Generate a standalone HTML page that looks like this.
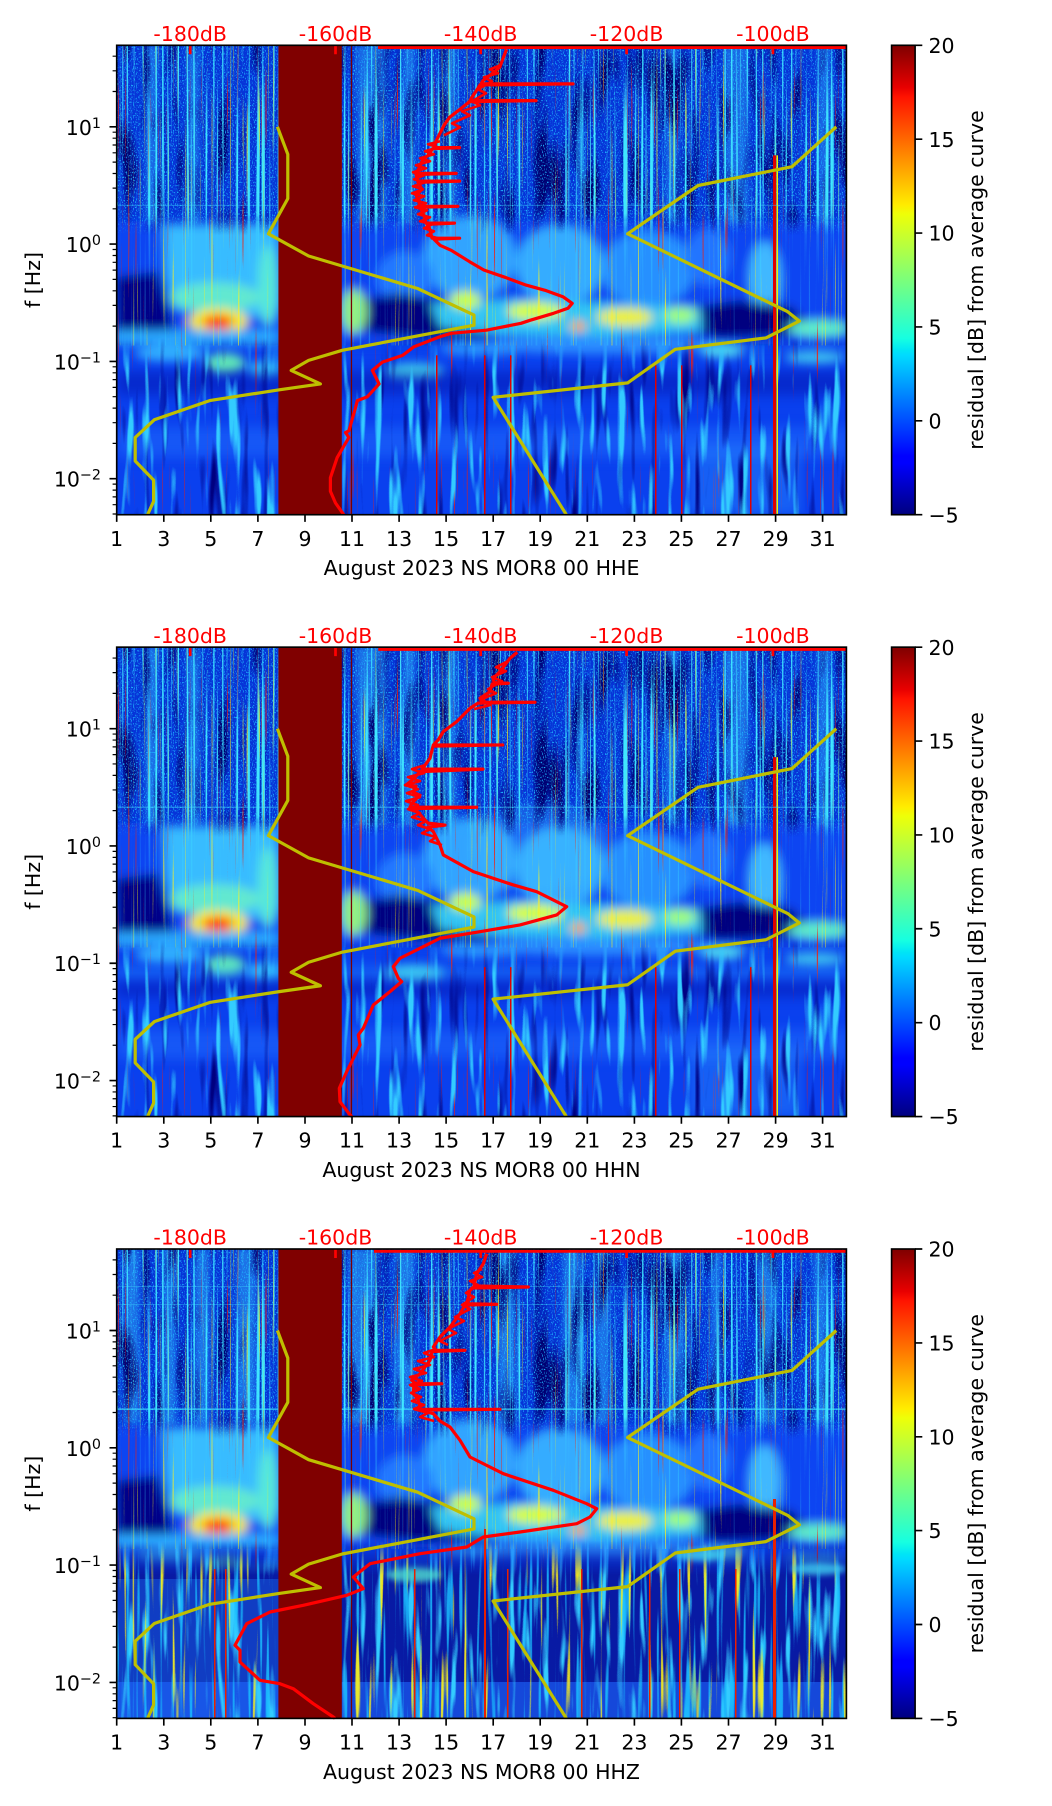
<!DOCTYPE html>
<html><head><meta charset="utf-8"><style>
html,body{margin:0;padding:0;background:#fff;}
svg{display:block;}
text{font-family:"DejaVu Sans","Liberation Sans",sans-serif;font-size:20.5px;}
</style></head><body>
<svg width="1052" height="1806" viewBox="0 0 1052 1806" xmlns="http://www.w3.org/2000/svg">
<defs>
 <linearGradient id="jet" x1="0" y1="1" x2="0" y2="0">
  <stop offset="0" stop-color="#00007f"/><stop offset="0.11" stop-color="#0000ff"/>
  <stop offset="0.125" stop-color="#0000ff"/><stop offset="0.34" stop-color="#00dbff"/>
  <stop offset="0.35" stop-color="#00e5f6"/><stop offset="0.375" stop-color="#16ffe1"/>
  <stop offset="0.5" stop-color="#7bff7b"/><stop offset="0.64" stop-color="#eeff08"/>
  <stop offset="0.66" stop-color="#ffec00"/><stop offset="0.89" stop-color="#ff1300"/>
  <stop offset="0.91" stop-color="#e80000"/><stop offset="1" stop-color="#7f0000"/>
 </linearGradient>
 <linearGradient id="fadeG" gradientUnits="userSpaceOnUse" x1="0" y1="292" x2="0" y2="326">
  <stop offset="0" stop-color="#fff" stop-opacity="0"/><stop offset="1" stop-color="#fff" stop-opacity="1"/>
 </linearGradient>
 <mask id="lowMask" maskUnits="userSpaceOnUse" x="100" y="280" width="760" height="200">
  <rect x="100" y="280" width="760" height="200" fill="url(#fadeG)"/>
 </mask>
 <linearGradient id="upG" gradientUnits="userSpaceOnUse" x1="0" y1="168" x2="0" y2="190">
  <stop offset="0" stop-color="#fff" stop-opacity="1"/><stop offset="1" stop-color="#fff" stop-opacity="0"/>
 </linearGradient>
 <mask id="upMask" maskUnits="userSpaceOnUse" x="100" y="-5" width="760" height="200">
  <rect x="100" y="-5" width="760" height="200" fill="url(#upG)"/>
 </mask>
 <clipPath id="clip"><rect x="116.7" y="0" width="729.7" height="469.4"/></clipPath>
 <filter id="blur5" x="-10%" y="-10%" width="120%" height="120%"><feGaussianBlur stdDeviation="5"/></filter>
 <filter id="blur3" x="-10%" y="-10%" width="120%" height="120%"><feGaussianBlur stdDeviation="3"/></filter>
 <filter id="blurBand" x="-5%" y="-100%" width="110%" height="300%"><feGaussianBlur stdDeviation="6"/></filter>
 <filter id="fSpeck" x="0" y="0" width="1" height="1" color-interpolation-filters="sRGB">
  <feTurbulence type="fractalNoise" baseFrequency="0.9 0.6" numOctaves="1" seed="3"/>
  <feColorMatrix type="matrix" values="0 0 0 0 0.12  0 0 0 0 0.72  0 0 0 0 1  5 0 0 0 -2.7"/>
 </filter>
 <filter id="fNavy" x="0" y="0" width="1" height="1" color-interpolation-filters="sRGB">
  <feTurbulence type="fractalNoise" baseFrequency="0.06 0.012" numOctaves="2" seed="8"/>
  <feColorMatrix type="matrix" values="0 0 0 0 0  0 0 0 0 0  0 0 0 0 0.45  4 0 0 0 -2.0"/>
 </filter>
 <filter id="fStC" x="0" y="0" width="1" height="1" color-interpolation-filters="sRGB">
  <feTurbulence type="fractalNoise" baseFrequency="0.45 0.004" numOctaves="1" seed="11"/>
  <feColorMatrix type="matrix" values="0 0 0 0 0.25  0 0 0 0 0.9  0 0 0 0 1  7 0 0 0 -3.9"/>
 </filter>
 <filter id="fStY" x="0" y="0" width="1" height="1" color-interpolation-filters="sRGB">
  <feTurbulence type="fractalNoise" baseFrequency="0.6 0.006" numOctaves="1" seed="29"/>
  <feColorMatrix type="matrix" values="0 0 0 0 1  0 0 0 0 0.95  0 0 0 0 0.1  12 0 0 0 -8.0"/>
 </filter>
 <filter id="fStR" x="0" y="0" width="1" height="1" color-interpolation-filters="sRGB">
  <feTurbulence type="fractalNoise" baseFrequency="0.7 0.008" numOctaves="1" seed="41"/>
  <feColorMatrix type="matrix" values="0 0 0 0 1  0 0 0 0 0.1  0 0 0 0 0  14 0 0 0 -9.8"/>
 </filter>
 <filter id="fLowC" x="0" y="0" width="1" height="1" color-interpolation-filters="sRGB">
  <feTurbulence type="fractalNoise" baseFrequency="0.12 0.012" numOctaves="2" seed="17"/>
  <feColorMatrix type="matrix" values="0 0 0 0 0.2  0 0 0 0 0.8  0 0 0 0 1  6 0 0 0 -3.4"/>
 </filter>
 <filter id="fLowN" x="0" y="0" width="1" height="1" color-interpolation-filters="sRGB">
  <feTurbulence type="fractalNoise" baseFrequency="0.1 0.01" numOctaves="2" seed="19"/>
  <feColorMatrix type="matrix" values="0 0 0 0 0  0 0 0 0 0  0 0 0 0 0.5  4 0 0 0 -2.3"/>
 </filter>
 <filter id="fLowY" x="0" y="0" width="1" height="1" color-interpolation-filters="sRGB">
  <feTurbulence type="fractalNoise" baseFrequency="0.25 0.008" numOctaves="1" seed="53"/>
  <feColorMatrix type="matrix" values="0 0 0 0 1  0 0 0 0 0.95  0 0 0 0 0.1  10 0 0 0 -6.4"/>
 </filter>
 <filter id="fLowC2" x="0" y="0" width="1" height="1" color-interpolation-filters="sRGB">
  <feTurbulence type="fractalNoise" baseFrequency="0.3 0.01" numOctaves="1" seed="61"/>
  <feColorMatrix type="matrix" values="0 0 0 0 0.1  0 0 0 0 0.75  0 0 0 0 1  7 0 0 0 -3.9"/>
 </filter>

 <g id="mid" filter="url(#blur5)">
  <rect x="110" y="176" width="745" height="124" fill="#0a44f2"/>
  <polygon points="164,180 277,180 279,262 255,272 200,268 172,262 166,230" fill="#38bcff"/>
  <ellipse cx="215" cy="252" rx="45" ry="15" fill="#62e8d0"/>
  <ellipse cx="268" cy="240" rx="10" ry="40" fill="#58e8d8"/>
  <ellipse cx="470" cy="212" rx="46" ry="42" fill="#30a4ff"/>
  <ellipse cx="560" cy="220" rx="44" ry="40" fill="#34acff"/>
  <ellipse cx="648" cy="224" rx="46" ry="38" fill="#2890ff"/>
  <ellipse cx="405" cy="232" rx="28" ry="26" fill="#2478ff"/>
  <ellipse cx="765" cy="232" rx="16" ry="36" fill="#40b8ff"/>
  <ellipse cx="708" cy="212" rx="22" ry="28" fill="#2274ff"/>
  <polygon points="116,232 158,226 168,262 174,292 116,292" fill="#000088"/>
  <polygon points="352,256 400,248 450,256 500,268 525,282 480,293 420,293 370,287 352,276" fill="#000080"/>
  <polygon points="688,262 740,255 792,262 806,276 790,291 720,293 678,283" fill="#000080"/>
  <polygon points="430,258 520,254 700,262 702,286 600,291 500,289 440,282" fill="#30c4f4"/>
  <ellipse cx="465" cy="255" rx="16" ry="9" fill="#c8ff48"/>
  <ellipse cx="535" cy="266" rx="28" ry="9" fill="#d8ff38"/>
  <ellipse cx="625" cy="272" rx="28" ry="9" fill="#eef030"/>
  <ellipse cx="680" cy="270" rx="16" ry="8" fill="#a0ff78"/>
  <ellipse cx="578" cy="281" rx="8" ry="5" fill="#ffa000"/>
  <ellipse cx="218" cy="276" rx="30" ry="13" fill="#f4e820"/>
  <ellipse cx="218" cy="277" rx="15" ry="7" fill="#ff2800"/>
  <rect x="116" y="285" width="162" height="14" fill="#2aa8ff"/>
  <ellipse cx="354" cy="266" rx="13" ry="22" fill="#90f088"/>
  <ellipse cx="818" cy="283" rx="30" ry="8" fill="#60f0c8"/>
  <ellipse cx="600" cy="300" rx="110" ry="9" fill="#2a8cff"/>
  <ellipse cx="480" cy="304" rx="40" ry="6" fill="#2a9aff"/>
  <ellipse cx="722" cy="306" rx="22" ry="6" fill="#50e0f0"/>
  <ellipse cx="170" cy="308" rx="35" ry="8" fill="#30b0ff"/>
  <ellipse cx="225" cy="318" rx="20" ry="10" fill="#60e8b8"/>
  <ellipse cx="265" cy="324" rx="18" ry="8" fill="#30c0ff"/>
  <ellipse cx="414" cy="326" rx="30" ry="8" fill="#40d0f0"/>
  <ellipse cx="815" cy="312" rx="30" ry="6" fill="#40c8f0"/>
 </g>
 <g id="cols" filter="url(#blur3)" fill="#40d0ff">
  <rect x="146" y="0" width="12" height="178"/><rect x="187" y="0" width="12" height="178"/>
  <rect x="357" y="0" width="29" height="178"/><rect x="403" y="0" width="12" height="178"/>
  <rect x="444" y="0" width="12" height="178"/><rect x="666" y="0" width="12" height="178"/>
  <rect x="725" y="0" width="23" height="178"/><rect x="818" y="0" width="12" height="178"/>
 </g>
 <g id="upper">
  <g mask="url(#upMask)">
   <rect x="116.7" y="0" width="729.7" height="192" filter="url(#fNavy)"/>
   <rect x="116.7" y="0" width="729.7" height="192" filter="url(#fSpeck)"/>
   <rect x="116.7" y="0" width="729.7" height="192" filter="url(#fStC)"/>
  </g>
  <rect x="116.7" y="176" width="729.7" height="124" filter="url(#fStC)" opacity="0.3"/>
  <rect x="116.7" y="0" width="729.7" height="300" filter="url(#fStY)" opacity="0.8"/>
  <rect x="116.7" y="0" width="729.7" height="470" filter="url(#fStR)" opacity="0.8"/>
 </g>
 <g id="yel" fill="none" stroke="#bfbf00" stroke-width="3.2" stroke-linejoin="round">
  <polyline points="147.6,469.4 153.6,456 153.6,434.8 135.2,415.7 135.2,392.2 154.3,374.5 209.7,355.3 278.4,344.6 320.4,338.6 291.2,325.1 308.6,315.1 342.2,305 474,279.9 474,269.8 417.6,243.2 308.6,210.7 268.4,188.5 287.8,153.3 287.8,109 277.4,81.5"/>
  <polyline points="566.3,469.4 493.1,352 627.6,337.6 675.3,304 765.9,292.6 799.4,275.8 787.7,266.4 627.6,188.5 698.1,140.2 792,121.4 836.3,81.5"/>
 </g>
</defs>

<rect x="0" y="0" width="1052" height="1806" fill="#ffffff"/>

<!-- ================= PANEL 1 ================= -->
<g transform="translate(0,45.3)">
 <g clip-path="url(#clip)">
  <rect x="116.7" y="0" width="729.7" height="470" fill="#0634d8"/>
  <rect x="116.7" y="300" width="729.7" height="170" fill="#0a40ee"/>
  <use href="#mid"/>
  <use href="#cols" opacity="0.35"/>
  <use href="#upper"/>
  <g mask="url(#lowMask)">
   <rect x="116.7" y="326" width="729.7" height="24" fill="#000090" opacity="0.35" filter="url(#blurBand)"/>
   <rect x="116.7" y="382" width="729.7" height="30" fill="#2070ff" opacity="0.5" filter="url(#blurBand)"/>
   <rect x="690" y="400" width="110" height="70" fill="#2a90ff" opacity="0.4" filter="url(#blurBand)"/>
   <rect x="116.7" y="290" width="729.7" height="180" filter="url(#fLowN)"/>
   <rect x="116.7" y="290" width="729.7" height="180" filter="url(#fLowC)"/>
  </g>
  <g fill="#e00000">
   <rect x="436" y="310" width="1.5" height="160"/><rect x="484" y="310" width="1.5" height="160"/>
   <rect x="510" y="310" width="1.5" height="160"/><rect x="655" y="320" width="1.5" height="150"/>
   <rect x="681" y="320" width="1.5" height="150"/><rect x="750" y="320" width="1.5" height="150"/>
   <rect x="773" y="110" width="3" height="360"/>
  </g>
  <rect x="776.5" y="110" width="1.5" height="360" fill="#f0f000"/>
  <rect x="116.7" y="159.5" width="729.7" height="1.2" fill="#40e0ff" opacity="0.35"/>
 </g>
 <rect x="278.4" y="0" width="63.4" height="469.4" fill="#800000"/>
 <rect x="350.8" y="0" width="1.3" height="469.4" fill="#7a0000"/>
 <use href="#yel"/>
 <g fill="none" stroke="#ff0000" stroke-width="3.2" stroke-linejoin="round">
  <polyline points="506.5,4 499.8,21.8 490,30 483,35.2 481,38.6 573,38.6 480,39.6 476,46 472,52 470,55.3 536,55.3 469.6,56.3 460,64 449.5,72.1 444,80 439.5,88.9 436,96 434,102.3 459.6,102.3 432.7,103.3 428,110 422,116 419.3,122.4 416,128.1 456.2,128.1 416,129.2 418,135.8 459.6,135.8 418,137 422,144 416,150 419.3,156 419.3,161 457.9,161 420,162 424,170 426,177.8 454.5,177.8 427,179 429.4,182.8 432,192.9 459.6,192.9 434,194 440,200 451.2,205 469.6,216.4 483.8,224.7 505,232 526,239.8 545,245 562.9,251.4 572.2,258 568,263 553.6,268 530,275 521,278 486.4,284.9 451.2,288 439.5,291.6 414,301.4 402.6,310.1 382.4,316.8 372.4,325.1 379.1,338.6 367.4,351.4 357.3,355.3 355.6,362 348.9,385.5 345.5,387.2 348.9,392.2 337.1,412.4 330.4,432.5 330.4,445.9 335.5,457.7 343.8,469.4"/>
  <polyline stroke-width="2.6" points="440,96 428,99 438,102 425,106 434,109 420,113 430,116 416,120 426,123 413,127 424,130 414,134 425,137 413,141 423,144 412,148 424,151 414,155 426,158 415,162 427,165 418,169 430,172 420,176 432,179 424,183 434,186 427,190 438,193"/>
  <polyline stroke-width="2.6" points="500,20 490,24 498,28 484,32 492,36 478,44 486,48 472,56 480,60 462,66 470,70 452,78 460,82 444,90"/>
  <line x1="378" y1="2.2" x2="846" y2="2.2" stroke-width="3"/>
 </g>
 <path d="M190.2,0V9M335.5,0V9M480.7,0V9M626.6,0V9M772.9,0V9" stroke="#ff0000" stroke-width="2.7"/>
 <rect x="116.7" y="0" width="729.7" height="469.4" fill="none" stroke="#000" stroke-width="1.64"/>
 <path d="M109.5,81.5H116.7M109.5,198.8H116.7M109.5,316.1H116.7M109.5,433.4H116.7" stroke="#000" stroke-width="1.64"/>
 <path d="M112.6,46.2H116.7M112.6,25.5H116.7M112.6,10.9H116.7M112.6,163.5H116.7M112.6,142.8H116.7M112.6,128.2H116.7M112.6,116.8H116.7M112.6,107.5H116.7M112.6,99.7H116.7M112.6,92.9H116.7M112.6,86.9H116.7M112.6,280.8H116.7M112.6,260.1H116.7M112.6,245.5H116.7M112.6,234.1H116.7M112.6,224.8H116.7M112.6,217H116.7M112.6,210.2H116.7M112.6,204.2H116.7M112.6,398.1H116.7M112.6,377.4H116.7M112.6,362.8H116.7M112.6,351.4H116.7M112.6,342.1H116.7M112.6,334.3H116.7M112.6,327.5H116.7M112.6,321.5H116.7M112.6,468.7H116.7M112.6,459.4H116.7M112.6,451.6H116.7M112.6,444.8H116.7M112.6,438.8H116.7" stroke="#000" stroke-width="1.2"/>
 <path d="M116.7,469.4v7.2M163.8,469.4v7.2M210.8,469.4v7.2M257.9,469.4v7.2M305,469.4v7.2M352,469.4v7.2M399.1,469.4v7.2M446.1,469.4v7.2M493.2,469.4v7.2M540.2,469.4v7.2M587.3,469.4v7.2M634.4,469.4v7.2M681.4,469.4v7.2M728.5,469.4v7.2M775.6,469.4v7.2M822.6,469.4v7.2" stroke="#000" stroke-width="1.64"/>
 <g fill="#ff0000" text-anchor="middle">
  <text x="190.2" y="-4.3">-180dB</text><text x="335.5" y="-4.3">-160dB</text><text x="480.7" y="-4.3">-140dB</text><text x="626.6" y="-4.3">-120dB</text><text x="772.9" y="-4.3">-100dB</text>
 </g>
 <g text-anchor="end" fill="#000">
  <text x="101" y="89.5">10<tspan font-size="14.3" dy="-7">1</tspan></text>
  <text x="101" y="206.8">10<tspan font-size="14.3" dy="-7">0</tspan></text>
  <text x="101" y="324.1">10<tspan font-size="14.3" dy="-7">−1</tspan></text>
  <text x="101" y="441.4">10<tspan font-size="14.3" dy="-7">−2</tspan></text>
 </g>
 <g text-anchor="middle" fill="#000">
  <text x="116.7" y="500.6">1</text><text x="163.8" y="500.6">3</text><text x="210.8" y="500.6">5</text><text x="257.9" y="500.6">7</text><text x="305" y="500.6">9</text><text x="352" y="500.6">11</text><text x="399.1" y="500.6">13</text><text x="446.1" y="500.6">15</text><text x="493.2" y="500.6">17</text><text x="540.2" y="500.6">19</text><text x="587.3" y="500.6">21</text><text x="634.4" y="500.6">23</text><text x="681.4" y="500.6">25</text><text x="728.5" y="500.6">27</text><text x="775.6" y="500.6">29</text><text x="822.6" y="500.6">31</text>
  <text x="481.5" y="529.8">August 2023 NS MOR8 00 HHE</text>
  <text transform="translate(40.2,234.7) rotate(-90)">f [Hz]</text>
  <text transform="translate(983,234.7) rotate(-90)">residual [dB] from average curve</text>
 </g>
 <rect x="891.6" y="0" width="23.5" height="469.4" fill="url(#jet)" stroke="#000" stroke-width="1.64"/>
 <path d="M915.1,0H922.3M915.1,93.9H922.3M915.1,187.8H922.3M915.1,281.6H922.3M915.1,375.5H922.3M915.1,469.4H922.3" stroke="#000" stroke-width="1.64"/>
 <g fill="#000">
  <text x="928.5" y="7.6">20</text><text x="928.5" y="101.5">15</text><text x="928.5" y="195.4">10</text><text x="928.5" y="289.2">5</text><text x="928.5" y="383.1">0</text><text x="928.5" y="477">−5</text>
 </g>
</g>

<!-- ================= PANEL 2 ================= -->
<g transform="translate(0,647.15)">
 <g clip-path="url(#clip)">
  <rect x="116.7" y="0" width="729.7" height="470" fill="#0634d8"/>
  <rect x="116.7" y="300" width="729.7" height="170" fill="#0a40ee"/>
  <use href="#mid"/>
  <ellipse cx="540" cy="200" rx="70" ry="45" fill="#40c0ff" opacity="0.3" filter="url(#blur5)"/>
  <use href="#cols" opacity="0.4"/>
  <use href="#upper"/>
  <g mask="url(#lowMask)">
   <rect x="116.7" y="318" width="729.7" height="14" fill="#30b0ff" opacity="0.3" filter="url(#blurBand)"/>
   <rect x="116.7" y="334" width="729.7" height="16" fill="#000090" opacity="0.35" filter="url(#blurBand)"/>
   <rect x="116.7" y="382" width="729.7" height="30" fill="#2070ff" opacity="0.5" filter="url(#blurBand)"/>
   <rect x="690" y="400" width="110" height="70" fill="#2a90ff" opacity="0.4" filter="url(#blurBand)"/>
   <rect x="116.7" y="290" width="729.7" height="180" filter="url(#fLowN)"/>
   <rect x="116.7" y="290" width="729.7" height="180" filter="url(#fLowC)"/>
  </g>
  <g fill="#e00000">
   <rect x="484" y="320" width="1.5" height="150"/><rect x="510" y="320" width="1.5" height="150"/>
   <rect x="655" y="320" width="1.5" height="150"/><rect x="750" y="320" width="1.5" height="150"/>
   <rect x="773" y="110" width="3" height="360"/>
  </g>
  <rect x="776.5" y="110" width="1.5" height="360" fill="#f0f000"/>
  <rect x="116.7" y="159.5" width="729.7" height="1.2" fill="#40e0ff" opacity="0.5"/>
 </g>
 <rect x="278.4" y="0" width="63.4" height="469.4" fill="#800000"/>
 <rect x="350.8" y="0" width="1.3" height="469.4" fill="#7a0000"/>
 <use href="#yel"/>
 <g fill="none" stroke="#ff0000" stroke-width="3.2" stroke-linejoin="round">
  <polyline points="517.3,5.1 510,11.1 500,24.5 493.3,31.1 494,35.5 508.3,36.1 492,37 490,44.5 480,51.1 482,55.1 535,55.1 478,56 470,61.1 456.7,74.5 443.3,84.5 438,93 433.3,97.8 502.7,97.8 433,99 430,111.1 425,118 422,122 483,122 420,124.5 413.3,132 406,137.8 416,139 413.3,145 420,148 416.7,151.1 412,156 410,160.1 476.7,160.1 412,161.5 418,165 423.3,171.1 428,176 445,178 428,180 433.3,184.5 440,197.8 443.3,207.8 473.3,224.5 513.3,237.8 536.7,244.5 566.7,259.5 556.7,267.8 520,277.8 480,284.5 440,291.1 426.7,297.8 400,311.1 393.3,319.5 398.3,331.1 401.7,334.5 390,344.5 373.3,357.8 363.3,381.1 358.3,387.8 360,397.8 346.7,424.5 339.3,441.1 340,454.5 350,467.8 352,469.4"/>
  <polyline stroke-width="2.6" points="425,118 412,122 424,126 408,130 420,134 405,138 418,142 407,146 420,150 406,154 418,158 408,162 420,166 412,170 426,174 418,178 430,182 422,186 436,190 430,194 442,198"/>
  <polyline stroke-width="2.6" points="508,14 496,20 506,24 492,30 502,34 488,42 496,46 482,52 490,58 474,62"/>
  <line x1="378.3" y1="2.2" x2="846" y2="2.2" stroke-width="3"/>
 </g>
 <path d="M190.2,0V9M335.5,0V9M480.7,0V9M626.6,0V9M772.9,0V9" stroke="#ff0000" stroke-width="2.7"/>
 <rect x="116.7" y="0" width="729.7" height="469.4" fill="none" stroke="#000" stroke-width="1.64"/>
 <path d="M109.5,81.5H116.7M109.5,198.8H116.7M109.5,316.1H116.7M109.5,433.4H116.7" stroke="#000" stroke-width="1.64"/>
 <path d="M112.6,46.2H116.7M112.6,25.5H116.7M112.6,10.9H116.7M112.6,163.5H116.7M112.6,142.8H116.7M112.6,128.2H116.7M112.6,116.8H116.7M112.6,107.5H116.7M112.6,99.7H116.7M112.6,92.9H116.7M112.6,86.9H116.7M112.6,280.8H116.7M112.6,260.1H116.7M112.6,245.5H116.7M112.6,234.1H116.7M112.6,224.8H116.7M112.6,217H116.7M112.6,210.2H116.7M112.6,204.2H116.7M112.6,398.1H116.7M112.6,377.4H116.7M112.6,362.8H116.7M112.6,351.4H116.7M112.6,342.1H116.7M112.6,334.3H116.7M112.6,327.5H116.7M112.6,321.5H116.7M112.6,468.7H116.7M112.6,459.4H116.7M112.6,451.6H116.7M112.6,444.8H116.7M112.6,438.8H116.7" stroke="#000" stroke-width="1.2"/>
 <path d="M116.7,469.4v7.2M163.8,469.4v7.2M210.8,469.4v7.2M257.9,469.4v7.2M305,469.4v7.2M352,469.4v7.2M399.1,469.4v7.2M446.1,469.4v7.2M493.2,469.4v7.2M540.2,469.4v7.2M587.3,469.4v7.2M634.4,469.4v7.2M681.4,469.4v7.2M728.5,469.4v7.2M775.6,469.4v7.2M822.6,469.4v7.2" stroke="#000" stroke-width="1.64"/>
 <g fill="#ff0000" text-anchor="middle">
  <text x="190.2" y="-4.3">-180dB</text><text x="335.5" y="-4.3">-160dB</text><text x="480.7" y="-4.3">-140dB</text><text x="626.6" y="-4.3">-120dB</text><text x="772.9" y="-4.3">-100dB</text>
 </g>
 <g text-anchor="end" fill="#000">
  <text x="101" y="89.5">10<tspan font-size="14.3" dy="-7">1</tspan></text>
  <text x="101" y="206.8">10<tspan font-size="14.3" dy="-7">0</tspan></text>
  <text x="101" y="324.1">10<tspan font-size="14.3" dy="-7">−1</tspan></text>
  <text x="101" y="441.4">10<tspan font-size="14.3" dy="-7">−2</tspan></text>
 </g>
 <g text-anchor="middle" fill="#000">
  <text x="116.7" y="500.6">1</text><text x="163.8" y="500.6">3</text><text x="210.8" y="500.6">5</text><text x="257.9" y="500.6">7</text><text x="305" y="500.6">9</text><text x="352" y="500.6">11</text><text x="399.1" y="500.6">13</text><text x="446.1" y="500.6">15</text><text x="493.2" y="500.6">17</text><text x="540.2" y="500.6">19</text><text x="587.3" y="500.6">21</text><text x="634.4" y="500.6">23</text><text x="681.4" y="500.6">25</text><text x="728.5" y="500.6">27</text><text x="775.6" y="500.6">29</text><text x="822.6" y="500.6">31</text>
  <text x="481.5" y="529.8">August 2023 NS MOR8 00 HHN</text>
  <text transform="translate(40.2,234.7) rotate(-90)">f [Hz]</text>
  <text transform="translate(983,234.7) rotate(-90)">residual [dB] from average curve</text>
 </g>
 <rect x="891.6" y="0" width="23.5" height="469.4" fill="url(#jet)" stroke="#000" stroke-width="1.64"/>
 <path d="M915.1,0H922.3M915.1,93.9H922.3M915.1,187.8H922.3M915.1,281.6H922.3M915.1,375.5H922.3M915.1,469.4H922.3" stroke="#000" stroke-width="1.64"/>
 <g fill="#000">
  <text x="928.5" y="7.6">20</text><text x="928.5" y="101.5">15</text><text x="928.5" y="195.4">10</text><text x="928.5" y="289.2">5</text><text x="928.5" y="383.1">0</text><text x="928.5" y="477">−5</text>
 </g>
</g>

<!-- ================= PANEL 3 ================= -->
<g transform="translate(0,1249)">
 <g clip-path="url(#clip)">
  <rect x="116.7" y="0" width="729.7" height="470" fill="#0634d8"/>
  <rect x="116.7" y="300" width="729.7" height="170" fill="#0a40ee"/>
  <use href="#mid"/>
  <g filter="url(#blur3)" fill="#40d0ff" opacity="0.4">
   <rect x="125" y="0" width="14" height="175"/><rect x="163" y="0" width="13" height="175"/><rect x="195" y="0" width="14" height="175"/>
   <rect x="237" y="0" width="19" height="175"/><rect x="349" y="0" width="28" height="175"/><rect x="395" y="0" width="19" height="175"/>
   <rect x="498" y="0" width="18" height="175"/><rect x="563" y="0" width="18" height="175"/><rect x="596" y="0" width="13" height="175"/>
   <rect x="665" y="0" width="19" height="175"/><rect x="712" y="0" width="9" height="175"/><rect x="758" y="0" width="19" height="175"/><rect x="814" y="0" width="14" height="175"/>
  </g>
  <use href="#upper"/>
  <g mask="url(#lowMask)">
   <rect x="116.7" y="290" width="729.7" height="180" fill="#081aa4"/>
   <rect x="116.7" y="330" width="162" height="140" fill="#2080ff" opacity="0.35"/>
   <rect x="116.7" y="433" width="729.7" height="37" fill="#1e68ff" opacity="0.6"/>
   <rect x="116.7" y="290" width="729.7" height="180" filter="url(#fLowC)"/>
   <rect x="116.7" y="290" width="729.7" height="180" filter="url(#fLowC2)" opacity="0.85"/>
   <rect x="116.7" y="290" width="729.7" height="180" filter="url(#fLowY)" opacity="0.9"/>
  </g>
  <g filter="url(#blur3)">
   <ellipse cx="414" cy="326" rx="28" ry="7" fill="#50e0d0" opacity="0.8"/>
   <ellipse cx="698" cy="306" rx="24" ry="6" fill="#40d0f0" opacity="0.8"/>
   <ellipse cx="818" cy="320" rx="28" ry="6" fill="#40d0f0" opacity="0.8"/>
  </g>
  <g fill="#e82000">
   <rect x="214" y="320" width="1.5" height="150"/><rect x="225" y="320" width="1.5" height="150"/>
   <rect x="414" y="320" width="1.5" height="150"/><rect x="484" y="280" width="2" height="190"/>
   <rect x="507" y="320" width="1.5" height="150"/><rect x="581" y="320" width="1.5" height="150"/>
   <rect x="649" y="320" width="1.5" height="150"/><rect x="679" y="320" width="1.5" height="150"/>
   <rect x="735" y="320" width="1.5" height="150"/><rect x="773" y="250" width="3" height="220"/>
  </g>
  <rect x="116.7" y="159.5" width="729.7" height="1.3" fill="#40e8ff" opacity="0.8"/>
  <rect x="116.7" y="55" width="729.7" height="1" fill="#40e0ff" opacity="0.35"/>
  <rect x="116.7" y="37" width="729.7" height="1" fill="#40e0ff" opacity="0.35"/>
 </g>
 <rect x="278.4" y="0" width="63.4" height="469.4" fill="#800000"/>
 <rect x="350.8" y="0" width="1.3" height="469.4" fill="#7a0000"/>
 <use href="#yel"/>
 <g fill="none" stroke="#ff0000" stroke-width="3.2" stroke-linejoin="round">
  <polyline points="486.7,4.7 483.3,14.7 476.7,24.7 474,37 528.3,38 472,39 470,41.3 466.7,54.7 496.7,55.3 465,56 460,64.7 450,78 440,88 433.3,98 436,101.3 465,101.3 432,102.5 430,111.3 425,118 420,124.7 411.7,131.3 416,134.7 441.7,134.7 414,136 413.3,144.7 418,150 420,158 416,160.3 500,160.3 421,161 433.3,164.7 440,172 450,178 460,191.3 470,208 503.3,224.7 553.3,241.3 586.7,254.7 596.7,259.7 590,268 576.7,274.7 520,283 483.3,288 466.7,298 420,304.7 370,314.7 353.3,328 363.3,339.7 346.7,346.3 303.3,356.3 270,363 246.7,374.7 235,396.3 240,401.3 240,413 260,431.3 280,434.7 293.3,439.7 313.3,454.7 333.3,468 335,469.4"/>
  <polyline stroke-width="2.6" points="436,100 424,104 434,108 418,112 430,116 414,120 426,124 410,128 422,132 410,136 420,140 411,144 421,148 412,152 424,156 414,160 428,164 420,168 434,172"/>
  <polyline stroke-width="2.6" points="482,20 474,24 482,28 470,32 478,36 466,44 474,48 462,56 470,60 455,68 464,72 448,80 456,84 440,92 448,96"/>
  <line x1="374" y1="2.2" x2="846" y2="2.2" stroke-width="3"/>
 </g>
 <path d="M190.2,0V9M335.5,0V9M480.7,0V9M626.6,0V9M772.9,0V9" stroke="#ff0000" stroke-width="2.7"/>
 <rect x="116.7" y="0" width="729.7" height="469.4" fill="none" stroke="#000" stroke-width="1.64"/>
 <path d="M109.5,81.5H116.7M109.5,198.8H116.7M109.5,316.1H116.7M109.5,433.4H116.7" stroke="#000" stroke-width="1.64"/>
 <path d="M112.6,46.2H116.7M112.6,25.5H116.7M112.6,10.9H116.7M112.6,163.5H116.7M112.6,142.8H116.7M112.6,128.2H116.7M112.6,116.8H116.7M112.6,107.5H116.7M112.6,99.7H116.7M112.6,92.9H116.7M112.6,86.9H116.7M112.6,280.8H116.7M112.6,260.1H116.7M112.6,245.5H116.7M112.6,234.1H116.7M112.6,224.8H116.7M112.6,217H116.7M112.6,210.2H116.7M112.6,204.2H116.7M112.6,398.1H116.7M112.6,377.4H116.7M112.6,362.8H116.7M112.6,351.4H116.7M112.6,342.1H116.7M112.6,334.3H116.7M112.6,327.5H116.7M112.6,321.5H116.7M112.6,468.7H116.7M112.6,459.4H116.7M112.6,451.6H116.7M112.6,444.8H116.7M112.6,438.8H116.7" stroke="#000" stroke-width="1.2"/>
 <path d="M116.7,469.4v7.2M163.8,469.4v7.2M210.8,469.4v7.2M257.9,469.4v7.2M305,469.4v7.2M352,469.4v7.2M399.1,469.4v7.2M446.1,469.4v7.2M493.2,469.4v7.2M540.2,469.4v7.2M587.3,469.4v7.2M634.4,469.4v7.2M681.4,469.4v7.2M728.5,469.4v7.2M775.6,469.4v7.2M822.6,469.4v7.2" stroke="#000" stroke-width="1.64"/>
 <g fill="#ff0000" text-anchor="middle">
  <text x="190.2" y="-4.3">-180dB</text><text x="335.5" y="-4.3">-160dB</text><text x="480.7" y="-4.3">-140dB</text><text x="626.6" y="-4.3">-120dB</text><text x="772.9" y="-4.3">-100dB</text>
 </g>
 <g text-anchor="end" fill="#000">
  <text x="101" y="89.5">10<tspan font-size="14.3" dy="-7">1</tspan></text>
  <text x="101" y="206.8">10<tspan font-size="14.3" dy="-7">0</tspan></text>
  <text x="101" y="324.1">10<tspan font-size="14.3" dy="-7">−1</tspan></text>
  <text x="101" y="441.4">10<tspan font-size="14.3" dy="-7">−2</tspan></text>
 </g>
 <g text-anchor="middle" fill="#000">
  <text x="116.7" y="500.6">1</text><text x="163.8" y="500.6">3</text><text x="210.8" y="500.6">5</text><text x="257.9" y="500.6">7</text><text x="305" y="500.6">9</text><text x="352" y="500.6">11</text><text x="399.1" y="500.6">13</text><text x="446.1" y="500.6">15</text><text x="493.2" y="500.6">17</text><text x="540.2" y="500.6">19</text><text x="587.3" y="500.6">21</text><text x="634.4" y="500.6">23</text><text x="681.4" y="500.6">25</text><text x="728.5" y="500.6">27</text><text x="775.6" y="500.6">29</text><text x="822.6" y="500.6">31</text>
  <text x="481.5" y="529.8">August 2023 NS MOR8 00 HHZ</text>
  <text transform="translate(40.2,234.7) rotate(-90)">f [Hz]</text>
  <text transform="translate(983,234.7) rotate(-90)">residual [dB] from average curve</text>
 </g>
 <rect x="891.6" y="0" width="23.5" height="469.4" fill="url(#jet)" stroke="#000" stroke-width="1.64"/>
 <path d="M915.1,0H922.3M915.1,93.9H922.3M915.1,187.8H922.3M915.1,281.6H922.3M915.1,375.5H922.3M915.1,469.4H922.3" stroke="#000" stroke-width="1.64"/>
 <g fill="#000">
  <text x="928.5" y="7.6">20</text><text x="928.5" y="101.5">15</text><text x="928.5" y="195.4">10</text><text x="928.5" y="289.2">5</text><text x="928.5" y="383.1">0</text><text x="928.5" y="477">−5</text>
 </g>
</g>
</svg>
</body></html>
